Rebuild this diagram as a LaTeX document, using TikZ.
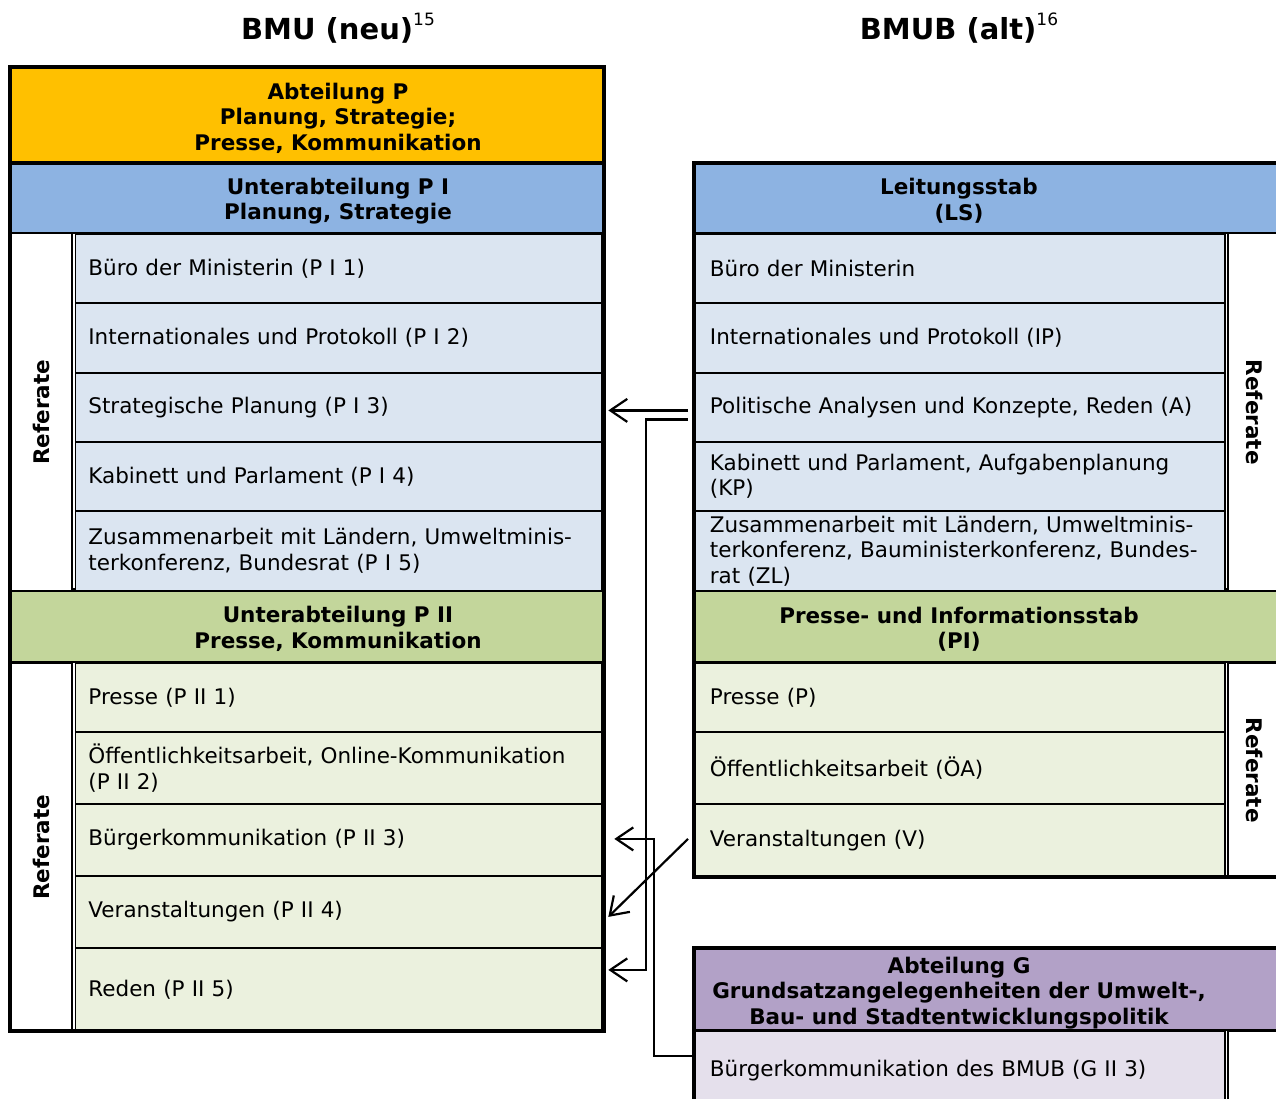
\documentclass[tikz,border=0pt]{standalone}
\usepackage{fontspec}
\setmainfont{DejaVu Sans}
\usepackage{tikz}
\usetikzlibrary{calc}
\usetikzlibrary{arrows.meta}
\definecolor{abtorange}{RGB}{255,192,0}
\definecolor{headblue}{RGB}{141,179,226}
\definecolor{rowblue}{RGB}{219,229,241}
\definecolor{headgreen}{RGB}{195,214,155}
\definecolor{rowgreen}{RGB}{235,241,222}
\definecolor{headlila}{RGB}{178,161,199}
\definecolor{rowlila}{RGB}{229,224,236}
\newcommand{\rowfont}{\fontsize{21.5}{25.5}\selectfont}
\newcommand{\headbar}[5]{\filldraw[fill=#1, line width=2pt] (#2,#3) rectangle (#4,#5);}
\newcommand{\thickline}[4]{\draw[line width=3.5pt] (#1,#2) -- (#3,#4);}
\tikzset{
  rowbox/.style={draw, line width=1.8pt, anchor=north west, inner xsep=13pt, inner ysep=0pt, align=left, font=\rowfont},
  lrow/.style={rowbox, minimum width=526pt, text width=500pt},
  rrow/.style={rowbox, minimum width=530pt, text width=500pt, inner xsep=15pt},
  refcol/.style={draw, fill=white, line width=1.5pt, anchor=north west, minimum width=61pt, inner sep=0pt},
  headtxt/.style={align=center, font=\rowfont\bfseries, yshift=-3pt},
  reflabel/.style={font=\rowfont\bfseries},
  titletxt/.style={anchor=base, font=\fontsize{29}{32}\selectfont\bfseries},
  outerframe/.style={line width=3.5pt},
  arr/.style={line width=2.2pt, -{Straight Barb[length=17pt,width=23pt]}}
}
\newcommand{\supnum}[1]{{\fontsize{17}{17}\selectfont\mdseries\raisebox{14pt}{#1}}}

\begin{document}
\begin{tikzpicture}[x=1pt,y=-1pt]
    \useasboundingbox (0,0) rectangle (1276,1099);
    \clip (0,0) rectangle (1276,1099);

    \node[titletxt] (neu) at (338,40) {BMU (neu)\supnum{15}};
    \node[titletxt] (alt) at (959,40) {BMUB (alt)\supnum{16}};

    \headbar{abtorange}{10}{67}{604}{163}
    \headbar{headblue}{10}{163}{604}{233}
    \headbar{headgreen}{10}{590}{604}{662}
    \headbar{headblue}{694}{163}{1290}{233}
    \headbar{headgreen}{694}{590}{1290}{662}
    \headbar{headlila}{694}{948}{1290}{1030}
    \thickline{10}{163}{604}{163}
    \thickline{10}{590}{604}{590}
    \thickline{694}{590}{1290}{590}

    \node[headtxt] (abtP) at (338,115) {Abteilung P\\Planung, Strategie;\\Presse, Kommunikation};
    \node[headtxt] (uaPI) at (338,198) {Unterabteilung P I\\Planung, Strategie};
    \node[headtxt] (uaPII) at (338,626) {Unterabteilung P II\\Presse, Kommunikation};
    \node[headtxt] (ls) at (959,198) {Leitungsstab\\(LS)};
    \node[headtxt] (pistab) at (959,626) {Presse- und Informationsstab\\(PI)};
    \node[headtxt] (abtG) at (959,990) {Abteilung G\\Grundsatzangelegenheiten der Umwelt-,\\Bau- und Stadtentwicklungspolitik};

    \node[lrow, fill=rowblue, minimum height=69pt] (pa1) at (74.5,233) {Büro der Ministerin (P I 1)};
    \node[lrow, fill=rowblue, minimum height=70pt] (pa2) at (74.5,302) {Internationales und Protokoll (P I 2)};
    \node[lrow, fill=rowblue, minimum height=69pt] (pa3) at (74.5,372) {Strategische Planung (P I 3)};
    \node[lrow, fill=rowblue, minimum height=69pt] (pa4) at (74.5,441) {Kabinett und Parlament (P I 4)};
    \node[lrow, fill=rowblue, minimum height=80pt] (pa5) at (74.5,510) {Zusammenarbeit mit Ländern, Umweltminis-\\terkonferenz, Bundesrat (P I 5)};

    \node[lrow, fill=rowgreen, minimum height=69pt] (pb1) at (74.5,662) {Presse (P II 1)};
    \node[lrow, fill=rowgreen, minimum height=72pt] (pb2) at (74.5,731) {Öffentlichkeitsarbeit, Online-Kommunikation\\(P II 2)};
    \node[lrow, fill=rowgreen, minimum height=72pt] (pb3) at (74.5,803) {Bürgerkommunikation (P II 3)};
    \node[lrow, fill=rowgreen, minimum height=72pt] (pb4) at (74.5,875) {Veranstaltungen (P II 4)};
    \node[lrow, fill=rowgreen, minimum height=84pt] (pb5) at (74.5,947) {Reden (P II 5)};

    \node[rrow, fill=rowblue, minimum height=69pt] (la1) at (694,233) {Büro der Ministerin};
    \node[rrow, fill=rowblue, minimum height=70pt] (la2) at (694,302) {Internationales und Protokoll (IP)};
    \node[rrow, fill=rowblue, minimum height=69pt] (la3) at (694,372) {Politische Analysen und Konzepte, Reden (A)};
    \node[rrow, fill=rowblue, minimum height=69pt] (la4) at (694,441) {Kabinett und Parlament, Aufgabenplanung\\(KP)};
    \node[rrow, fill=rowblue, minimum height=80pt] (la5) at (694,510) {Zusammenarbeit mit Ländern, Umweltminis-\\terkonferenz, Bauministerkonferenz, Bundes-\\rat (ZL)};

    \node[rrow, fill=rowgreen, minimum height=69pt] (pi1) at (694,662) {Presse (P)};
    \node[rrow, fill=rowgreen, minimum height=72pt] (pi2) at (694,731) {Öffentlichkeitsarbeit (ÖA)};
    \node[rrow, fill=rowgreen, minimum height=74pt] (pi3) at (694,803) {Veranstaltungen (V)};

    \node[rrow, fill=rowlila, minimum height=80pt] (g1) at (694,1030) {Bürgerkommunikation des BMUB (G II 3)};

    \node[refcol, minimum height=357pt] (colA) at (10,233) {};
    \node[refcol, minimum height=369pt] (colB) at (10,662) {};
    \node[refcol, minimum height=357pt] (colC) at (1227,233) {};
    \node[refcol, minimum height=215pt] (colD) at (1227,662) {};
    \node[refcol, minimum height=85pt] (colE) at (1227,1030) {};
    \node[reflabel, rotate=90] (refA) at (colA.center) {Referate};
    \node[reflabel, rotate=90] (refB) at (colB.center) {Referate};
    \node[reflabel, rotate=-90] (refC) at ([xshift=-4pt]colC.center) {Referate};
    \node[reflabel, rotate=-90] (refD) at ([xshift=-4pt]colD.center) {Referate};

    \draw[outerframe] (10,67) rectangle (604,1031);
    \draw[outerframe] (694,163) rectangle (1290,877);
    \draw[outerframe] (694,948) rectangle (1290,1120);

    \draw[arr] ([xshift=-6pt,yshift=-3pt]la3.west) -- ([xshift=6pt,yshift=-3pt]pa3.east);
    \draw[arr] ([xshift=-6pt,yshift=-12pt]la3.west) -- ++(-42,0) |- ([xshift=6pt,yshift=20pt]pb5.east);
    \draw[arr] ([xshift=-6pt,yshift=2pt]pi3.west) -- ([xshift=6pt,yshift=-5pt]pb4.east);
    \draw[arr] ([yshift=15pt]g1.west) -- ++(-40,0) |- ([xshift=12pt,yshift=1pt]pb3.east);
\end{tikzpicture}
\end{document}
